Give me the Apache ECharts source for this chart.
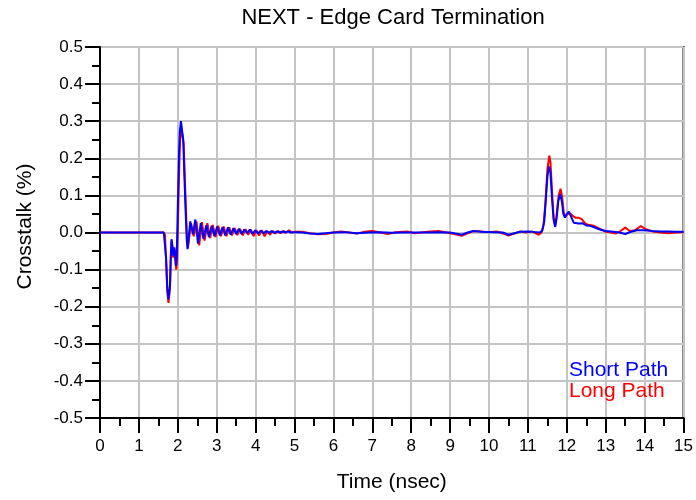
<!DOCTYPE html>
<html>
<head>
<meta charset="utf-8">
<script src="https://cdn.jsdelivr.net/npm/echarts@6/dist/echarts.min.js"></script>
<style>html,body{margin:0;padding:0;background:#fff}#c{width:696px;height:500px}</style>
</head>
<body>
<div id="c"></div>
<script>
var xTicks = [0,1,2,3,4,5,6,7,8,9,10,11,12,13,14,15];
var yTicks = [-0.5,-0.4,-0.3,-0.2,-0.1,0,0.1,0.2,0.3,0.4,0.5];

var shortTime = [0,1.64,1.67,1.70,1.73,1.76,1.78,1.80,1.82,1.84,1.86,1.88,1.91,1.93,1.95,1.97,1.99,2.01,2.03,2.05,2.08,2.11,2.14,2.17,2.20,2.23,
  2.25,2.32,2.39,2.45,2.52,2.59,2.66,2.73,2.80,2.87,2.94,3.01,3.08,3.15,3.22,3.29,3.36,3.43,3.50,3.57,3.64,3.71,3.78,3.85,3.92,3.99,4.06,4.13,4.20,4.27,4.34,4.41,4.48,4.55,4.62,4.69,4.76,4.83,4.90,5.0,
  5.2,5.4,5.6,5.8,6.0,6.3,6.6,6.9,7.2,7.5,7.8,8.1,8.4,8.7,9.0,9.2,9.3,9.45,9.6,9.8,10.1,10.35,10.5,10.65,10.8,11.0,11.2,
  11.3,11.37,11.42,11.46,11.5,11.54,11.58,11.62,11.66,11.7,11.74,11.78,11.83,11.87,11.91,11.95,12.0,12.05,12.1,12.18,12.3,12.4,12.5,12.6,12.7,12.85,13.0,13.2,13.35,13.5,13.65,13.8,14.0,14.2,14.4,14.6,14.8,15.0];
var shortPath = [0,0,-0.005,-0.07,-0.15,-0.18,-0.183,-0.14,-0.06,-0.018,-0.035,-0.062,-0.04,-0.06,-0.09,-0.07,0.02,0.12,0.21,0.27,0.30,0.30,0.25,0.15,0.06,-0.02,
  -0.045,0.030,-0.005,0.035,-0.030,0.025,-0.018,0.020,-0.012,0.018,-0.010,0.016,-0.008,0.015,-0.008,0.014,-0.006,0.012,-0.004,0.010,-0.004,0.008,-0.002,0.008,-0.004,0.006,-0.003,0.005,-0.002,0.004,-0.001,0.004,-0.001,0.003,0.000,0.003,0.000,0.003,0.000,0.001,
  0.0,-0.003,-0.004,-0.002,0.0,0.001,-0.002,0.0,0.001,-0.001,0.0,0.0,0.0,0.001,0.0,-0.004,-0.006,0.0,0.004,0.002,0.001,0.0,-0.006,-0.002,0.002,0.003,0.001,
  0.0,0.005,0.03,0.09,0.15,0.178,0.16,0.09,0.035,0.015,0.04,0.085,0.104,0.085,0.05,0.04,0.05,0.056,0.045,0.026,0.024,0.025,0.019,0.018,0.014,0.008,0.004,0.002,0.0,-0.004,0.002,0.006,0.006,0.004,0.003,0.003,0.002,0.002];

var longTime = [0,1.64,1.67,1.70,1.73,1.76,1.78,1.80,1.82,1.84,1.86,1.88,1.91,1.93,1.96,1.98,2.00,2.02,2.04,2.06,2.09,2.12,2.15,2.18,2.21,2.24,
  2.26,2.34,2.41,2.48,2.55,2.62,2.69,2.76,2.83,2.90,2.97,3.04,3.11,3.18,3.25,3.32,3.39,3.46,3.53,3.60,3.67,3.74,3.81,3.88,3.95,4.02,4.09,4.16,4.23,4.30,4.37,4.44,4.51,4.58,4.65,4.72,4.79,4.86,4.93,5.0,
  5.2,5.4,5.6,5.8,6.0,6.2,6.4,6.6,6.8,7.0,7.2,7.4,7.6,7.9,8.1,8.4,8.7,8.9,9.1,9.3,9.45,9.6,9.8,10.0,10.2,10.4,10.5,10.65,10.8,10.95,11.1,
  11.28,11.35,11.4,11.45,11.5,11.55,11.58,11.62,11.66,11.7,11.74,11.79,11.84,11.88,11.92,11.96,12.02,12.08,12.15,12.22,12.3,12.38,12.48,12.58,12.7,12.85,13.0,13.15,13.25,13.38,13.5,13.62,13.75,13.9,14.05,14.2,14.4,14.6,14.8,15.0];
var longPath = [0,0,-0.006,-0.08,-0.16,-0.19,-0.195,-0.15,-0.07,-0.022,-0.04,-0.068,-0.045,-0.065,-0.10,-0.08,0.0,0.10,0.19,0.25,0.28,0.28,0.24,0.15,0.06,-0.02,
  -0.042,0.025,-0.010,0.030,-0.035,0.028,-0.022,0.025,-0.015,0.020,-0.012,0.018,-0.010,0.016,-0.010,0.014,-0.008,0.012,-0.007,0.010,-0.008,0.009,-0.006,0.008,-0.010,0.006,-0.008,0.006,-0.010,0.004,-0.006,0.004,-0.003,0.004,-0.002,0.004,0.000,0.006,0.000,0.002,
  0.002,-0.002,-0.005,-0.004,0.0,0.003,0.0,-0.003,0.002,0.004,0.0,-0.004,0.001,0.003,-0.002,0.002,0.004,0.0,-0.004,-0.009,-0.002,0.004,0.003,0.001,0.003,-0.004,-0.008,-0.003,0.003,0.0,0.003,
  -0.006,0.0,0.02,0.08,0.17,0.207,0.19,0.11,0.04,0.018,0.05,0.10,0.118,0.095,0.055,0.042,0.05,0.052,0.045,0.04,0.04,0.036,0.024,0.02,0.018,0.01,0.002,0.0,-0.003,0.004,0.013,0.004,0.006,0.017,0.008,0.003,0.0,-0.002,0.0,0.001];

function zip(t, v) { return t.map(function (x, i) { return [x, v[i]]; }); }

var FONT = 'Liberation Sans, Arial, sans-serif';
var chart = echarts.init(document.getElementById('c'), null, {renderer: 'canvas'});
chart.setOption({
  animation: false,
  backgroundColor: '#ffffff',
  title: {
    text: 'NEXT - Edge Card Termination',
    left: 393, top: 7, textAlign: 'center', padding: 0,
    textStyle: {fontFamily: FONT, fontSize: 22, fontWeight: 'normal', color: '#000'}
  },
  legend: {
    orient: 'vertical', left: 559, top: 355, icon: 'none', itemWidth: 0, itemHeight: 10, itemGap: 0,
    selectedMode: false,
    textStyle: {fontFamily: FONT, fontSize: 21, lineHeight: 20},
    data: [
      {name: 'Short Path', textStyle: {color: '#0000ff'}},
      {name: 'Long Path', textStyle: {color: '#ff0000'}}
    ]
  },
  grid: {left: 100, right: 11, top: 47, bottom: 82, show: true, borderColor: '#000', borderWidth: 2, backgroundColor: 'transparent'},
  xAxis: {
    type: 'value', min: xTicks[0], max: xTicks[xTicks.length - 1], interval: 1,
    name: 'Time (nsec)', nameLocation: 'middle', nameGap: 54, nameMoveOverlap: false,
    nameTextStyle: {fontFamily: FONT, fontSize: 21, color: '#000'},
    axisLine: {show: true, onZero: false, lineStyle: {color: '#000', width: 2}},
    axisTick: {show: true, length: 15, lineStyle: {color: '#000', width: 2}},
    minorTick: {show: true, splitNumber: 2, length: 8, lineStyle: {color: '#000', width: 2}},
    axisLabel: {margin: 20, fontFamily: FONT, fontSize: 17, color: '#000'},
    splitLine: {show: true, lineStyle: {color: '#c4c4c4', width: 2}}
  },
  yAxis: {
    type: 'value', min: yTicks[0], max: yTicks[yTicks.length - 1], interval: 0.1,
    name: 'Crosstalk (%)', nameLocation: 'middle', nameGap: 64, nameMoveOverlap: false,
    nameTextStyle: {fontFamily: FONT, fontSize: 21, color: '#000', padding: [0, 0, 0, 12]},
    axisLine: {show: true, onZero: false, lineStyle: {color: '#000', width: 2}},
    axisTick: {show: true, length: 15, lineStyle: {color: '#000', width: 2}},
    minorTick: {show: true, splitNumber: 2, length: 8, lineStyle: {color: '#000', width: 2}},
    axisLabel: {margin: 17, fontFamily: FONT, fontSize: 17, color: '#000',
      formatter: function (v) { return (Math.abs(v) < 1e-9 ? 0 : v).toFixed(1); }},
    splitLine: {show: true, lineStyle: {color: '#c4c4c4', width: 2}}
  },
  series: [
    {name: 'Long Path', type: 'line', data: zip(longTime, longPath), showSymbol: false, symbol: 'none',
      lineStyle: {color: '#ff0000', width: 2}, itemStyle: {color: '#ff0000'}, z: 2},
    {name: 'Short Path', type: 'line', data: zip(shortTime, shortPath), showSymbol: false, symbol: 'none',
      lineStyle: {color: '#0000ff', width: 2}, itemStyle: {color: '#0000ff'}, z: 3}
  ]
});
</script>
</body>
</html>
